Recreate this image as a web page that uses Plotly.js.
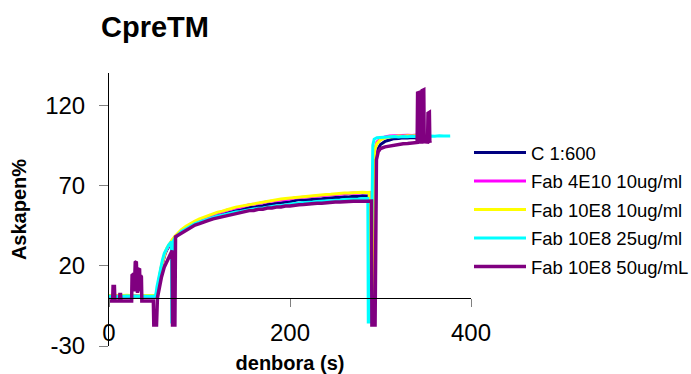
<!DOCTYPE html>
<html>
<head>
<meta charset="utf-8">
<script src="https://cdn.plot.ly/plotly-3.0.1.min.js"></script>
<style>html,body{margin:0;padding:0;background:#fff;}#chart{width:691px;height:374px;}</style>
</head>
<body>
<div id="chart"></div>
<script>
// ---- data ----
const seriesNames = ["C 1:600", "Fab 4E10 10ug/ml", "Fab 10E8 10ug/ml", "Fab 10E8 25ug/ml", "Fab 10E8 50ug/mL"];

const navyT = [0,10,20,30,40,52,53,54,56,58,60,62,64,67,70,73,76,
  80,85,90,95,100,105,110,115,120,125,130,135,140,145,150,155,160,165,170,175,180,185,190,195,200,205,210,215,220,225,230,235,240,245,250,255,260,265,270,275,280,285,
  289.5,290,292.5,295.5,297.5,
  300,305,310,315,320,325,330,335,340,345,350];
const navyY = [1,1.2,0.8,1,1.1,1,3,7,13,19,23.5,27.5,30,33,35.5,37.5,39.5,
  41.5,43.2,45.1,46.3,47.6,48.5,49.6,50.4,51.4,51.9,52.9,53.4,54.3,54.7,55.5,56.2,56.4,57.2,57.4,58.1,58.3,59,59.1,59.7,59.8,60.4,61.2,60.7,61.1,61.2,61.6,61.7,62.1,62.1,62.5,62.5,62.9,62.8,63.2,63.1,63.5,63.4,
  63.6,-14,-14,88,93,
  95.5,97.4,98.3,99.1,99.2,99.6,99.5,99.9,99.6,100,99.8];

const magentaT = [0,10,20,30,40,52,53,54,56,58,60,62,64,67,70,73,76,
  80,85,90,95,100,105,110,115,120,125,130,135,140,145,150,155,160,165,170,175,180,185,190,195,200,205,210,215,220,225,230,235,240,245,250,255,260,265,270,275,280,285,
  288.5,289,291,294,296,
  300,305,310,315,320,325,330,335,340,345,350];
const magentaY = [1.3,1.5,1.1,1.4,1.2,1.2,3.5,7.5,13.5,19.5,24,28,30.5,33.5,36,38,40,
  42,44,45.8,47.3,48.6,49.8,50.9,51.8,52.9,53.4,54.5,55.1,56,56.4,57.2,57.9,58.2,58.9,59.2,59.8,60.1,60.7,60.9,61.4,61.6,62.1,62.4,62.6,63,63.1,63.5,63.6,64,64.1,64.4,64.5,64.8,64.8,65.2,65.1,65.6,65.5,
  65.6,-13,-13,93,97,
  99,100.2,100.8,101,101.2,101,101.3,101.1,101.4,101.2,101.3];

const yellowT = [0,10,20,30,40,52,53,54,56,58,60,62,64,67,70,73,76,
  80,85,90,95,100,105,110,115,120,125,130,135,140,145,150,155,160,165,170,175,180,185,190,195,200,205,210,215,220,225,230,235,240,245,250,255,260,265,270,275,280,285,
  287.5,288,290.5,293.5,296,
  300,305,310,315,320,325,330,335,340,345,350];
const yellowY = [1.5,1.3,1.6,1.2,1.5,1.4,3.8,8,14,20,24.5,28.2,31,33.8,36.2,38.3,40.3,
  42.4,44.5,46.3,47.8,49.2,50.3,51.5,52.3,53.4,54,55,55.6,56.5,57,57.8,58.3,58.8,59.4,59.8,60.3,60.7,61.2,61.5,61.9,62.2,62.6,62.9,63.1,63.5,63.6,63.9,64.1,64.4,64.5,64.8,64.9,65.2,65.2,65.5,65.4,65.8,65.6,
  65.7,-14,-14,92,96,
  98.4,99.6,100.2,100.5,100.7,100.6,100.9,100.7,101,100.8,100.9];

const cyanT = [0,10,20,30,40,51,52,53,55,57,59,61,63,66,69,69.4,70.6,71,73,76,
  80,85,90,95,100,105,110,115,120,125,130,135,140,145,150,155,160,165,170,175,180,185,190,195,200,205,210,215,220,225,230,235,240,245,250,255,260,265,270,275,280,285,
  286,286.5,289,291.5,293,296,
  300,305,310,315,320,325,330,335,340,345,350,355,360,365,370,375,377];
const cyanY = [1,0.8,1.1,0.9,1,1,3,7,13,19,23.5,27.5,30,33,35,-15,-15,35.5,37.3,39.3,
  41.3,43,44.8,46.2,47.3,48.3,49.3,50.1,50.9,51.4,52.2,52.7,53.4,53.8,54.4,54.9,55.2,55.8,56,56.6,56.8,57.4,57.5,58,58.1,58.7,59,59.1,59.4,59.6,60,60.1,60.4,60.5,60.8,60.9,61.2,61.2,61.5,61.5,61.8,61.7,
  61.8,-15,-15,95,98.8,99.7,
  99.9,100.3,100.1,100.4,100.2,100.5,100.3,100.6,100.4,100.7,100.5,100.8,100.6,100.9,100.7,101,100.8];

const purpleT = [0,4,4.5,6,6.5,11.5,12,12.8,13.3,20,25,25.5,27.5,28,29,30.2,30.7,31.5,32,33.8,34.3,35,35.8,36.3,45,49,49.5,52.5,53.5,55,58,61,64,67,69.8,70.2,72.8,73.5,76,
  80,85,90,95,100,105,110,115,120,125,130,135,140,145,150,155,160,165,170,175,180,185,190,195,200,205,210,215,220,225,230,235,240,245,250,255,260,265,270,275,280,285,
  290,290.5,294,295.5,297.5,300,305,310,315,320,325,330,335,340.5,341,343.5,344,345.5,346,347.8,348.3,352,352.5,354,354.5,355];
const purpleY = [-2,-2,7,7,-2,-2,2,2,-2,-2.3,-2,14,15,4,22,22.5,6,3,18,17.5,4,14,13,-2,-2.2,-2,-17,-17,0,5,13,19,23,27,29.5,-17,-17,38,38.8,
  40.3,42.2,43.8,45.3,46.2,47.4,48.2,49.2,49.8,50.6,51.2,52,52.4,53.2,53.6,54.3,54.4,55.1,55.2,55.9,56,56.6,56.6,57.2,57.2,57.8,58,58.1,58.5,58.5,58.9,58.9,59.3,59.3,59.6,59.6,59.9,59.8,60.2,60.1,60.4,60.2,
  60.3,-17,-17,86,91,93,94,94.6,95.3,95.4,96,96.1,96.6,96.8,127.5,128,97,97,129,129.5,97.2,97,115,115.5,97.5,96.5];

const xTickVals = [0, 200, 400];
const yTickVals = [-30, 20, 70, 120];

// ---- styles ----
const colors = ["#000080", "#FF00FF", "#FFFF00", "#00FFFF", "#800080"];
const widths = [3, 3, 3, 3, 3.5];
const xs = [navyT, magentaT, yellowT, cyanT, purpleT];
const ys = [navyY, magentaY, yellowY, cyanY, purpleY];
const FONT = "Liberation Sans, Arial, sans-serif";

const traces = seriesNames.map((name, i) => ({
  type: "scatter", mode: "lines", name: name,
  x: xs[i], y: ys[i],
  legendgroup: "g" + i,
  line: {color: colors[i], width: widths[i]}
}));

const layout = {
  width: 691, height: 374,
  margin: {l: 109, r: 220, t: 73, b: 28, pad: 0, autoexpand: false},
  paper_bgcolor: "#fff", plot_bgcolor: "#fff",
  font: {family: FONT, color: "#000"},
  title: {
    text: "<b>CpreTM</b>", font: {family: FONT, size: 29, color: "#000"},
    xref: "container", x: 101/691, xanchor: "left",
    yref: "container", y: 1 - 27/374, yanchor: "middle"
  },
  xaxis: {
    range: [0, 400], tickvals: xTickVals, ticktext: xTickVals.map(String),
    anchor: "free", position: 30/170,
    showline: true, linecolor: "#000", linewidth: 1,
    ticks: "outside", ticklen: 8, tickcolor: "#808080", tickwidth: 1,
    ticklabelstandoff: 5,
    tickfont: {family: FONT, size: 24, color: "#000"},
    showgrid: false, zeroline: false,
    title: {text: "<b>denbora (s)</b>", font: {family: FONT, size: 20, color: "#000"}, standoff: 15}
  },
  yaxis: {
    range: [-30, 140], tickvals: yTickVals, ticktext: yTickVals.map(String),
    showline: true, linecolor: "#000", linewidth: 1,
    ticks: "outside", ticklen: 9, tickcolor: "#808080", tickwidth: 1,
    ticklabelstandoff: 9,
    tickfont: {family: FONT, size: 24, color: "#000"},
    showgrid: false, zeroline: false,
    title: {text: "<b>Askapen%</b>", font: {family: FONT, size: 20, color: "#000"}, standoff: 13}
  },
  showlegend: true,
  legend: {
    x: (469 - 109) / 362, xanchor: "left",
    y: 0.777, yanchor: "top",
    font: {family: FONT, size: 18.5, color: "#000"},
    bgcolor: "rgba(0,0,0,0)", borderwidth: 0,
    traceorder: "grouped", tracegroupgap: 1.5,
    itemwidth: 52
  }
};

Plotly.newPlot("chart", traces, layout, {displayModeBar: false, staticPlot: true});
</script>
</body>
</html>
